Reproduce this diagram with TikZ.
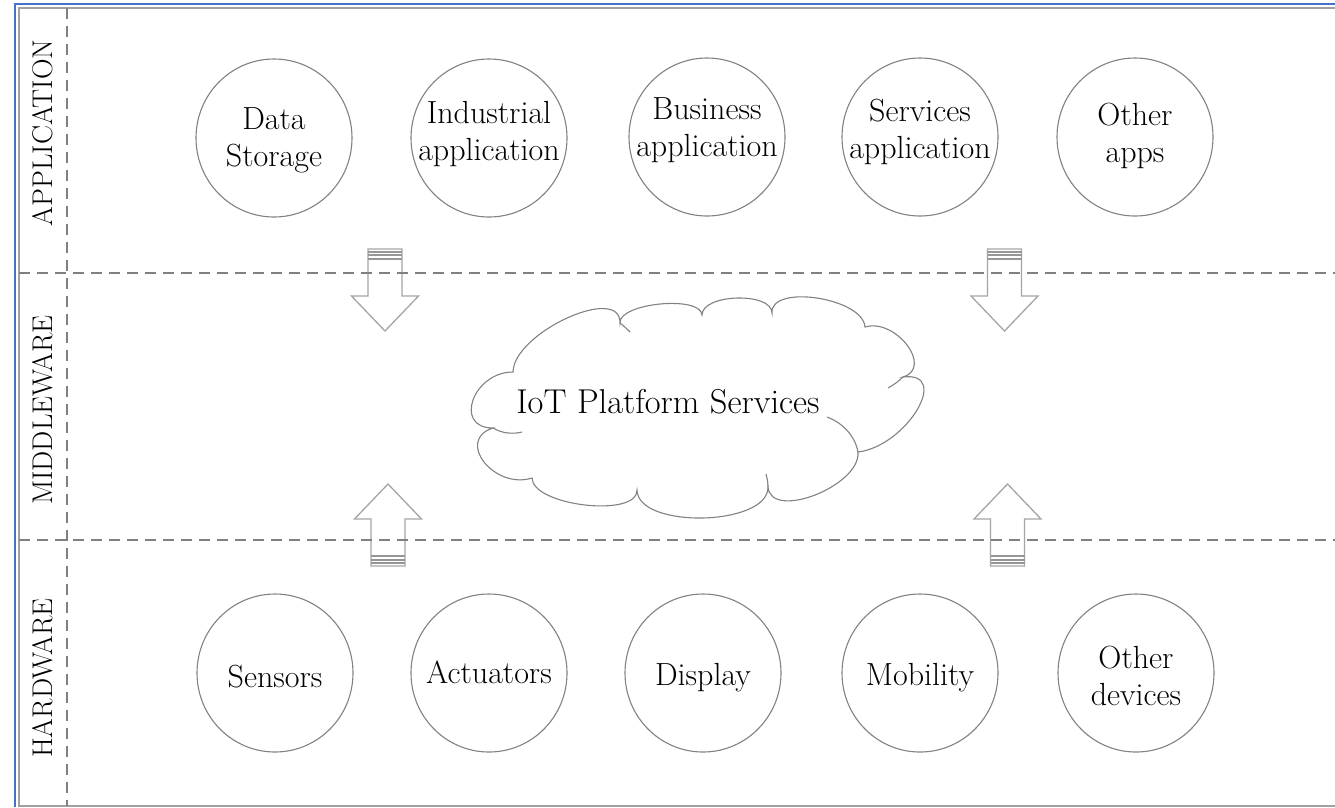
\documentclass[tikz,border=0pt]{standalone}
\usetikzlibrary{shapes.geometric}
\definecolor{frameblue}{RGB}{68,114,196}
\definecolor{framegray}{RGB}{160,160,160}
\definecolor{dashgray}{RGB}{128,128,128}
\definecolor{circgray}{RGB}{130,130,130}
\definecolor{arrgray}{RGB}{165,165,165}
\definecolor{stripegray}{RGB}{150,150,150}
\begin{document}
\begin{tikzpicture}[x=1pt,y=-1pt,
  bubble/.style={ellipse, draw=circgray, line width=1.1pt, minimum width=156pt, minimum height=158pt, inner sep=0pt},
  lbl/.style={align=center, font=\fontsize{32}{37}\selectfont, inner sep=0pt},
  layerlbl/.style={rotate=90, font=\fontsize{28.5}{30}\selectfont, inner sep=0pt},
  layerline/.style={dashgray, line width=2.4pt, dash pattern=on 11pt off 7pt},
  cloudline/.style={draw=circgray, line width=1.1pt},
  blkarrow/.pic={
    \draw[arrgray, line width=1.3pt, line join=miter]
      (-17,-82) -- (-17,-35) -- (-33.5,-35) -- (0,0) -- (33.5,-35) -- (17,-35) -- (17,-82) -- cycle;
    \draw[stripegray, line width=1.6pt] (-17,-79) -- (17,-79);
    \draw[stripegray, line width=1.4pt] (-17,-76) -- (17,-76);
    \draw[stripegray, line width=1.2pt] (-17,-72) -- (17,-72);
  }]
\useasboundingbox (0,0) rectangle (1335,807);
\fill[white] (0,0) rectangle (1335,807);

% frame
\draw[frameblue, line width=2pt] (15,807) -- (15,4) -- (1335,4);
\draw[framegray, line width=1.4pt] (1335,8) -- (19,8) -- (19,806) -- (1335,806);

% layer labels
\node[layerlbl] (lapp) at (43,133) {APPLICATION};
\node[layerlbl] (lmid) at (43,410) {MIDDLEWARE};
\node[layerlbl] (lhw)  at (43,678) {HARDWARE};

% application circles
\node[bubble] (c1) at (274,138) {};
\node[bubble] (c2) at (489,138) {};
\node[bubble] (c3) at (707,137) {};
\node[bubble] (c4) at (920,137) {};
\node[bubble] (c5) at (1135,137) {};
\node[lbl] (t1) at (274,140) {Data\\Storage};
\node[lbl] (t2) at (489,134) {Industrial\\application};
\node[lbl] (t3) at (707,130) {Business\\application};
\node[lbl] (t4) at (920,132) {Services\\application};
\node[lbl] (t5) at (1135,136) {Other\\apps};

% hardware circles
\node[bubble] (h1) at (275,673) {};
\node[bubble] (h2) at (489,673) {};
\node[bubble] (h3) at (703,673) {};
\node[bubble] (h4) at (920,673) {};
\node[bubble] (h5) at (1136,673) {};
\node[lbl] (s1) at (275,677) {Sensors};
\node[lbl] (s2) at (489,672) {Actuators};
\node[lbl] (s3) at (703,678) {Display};
\node[lbl] (s4) at (920,678) {Mobility};
\node[lbl] (s5) at (1136,676) {Other\\devices};

% cloud
\draw[cloudline, fill=white]
  (513,372) .. controls (513.7,332.7) and (620.7,283.7) .. (620,323)
  .. controls (618.7,303) and (700.7,295) .. (702,315)
  .. controls (702,293.7) and (772,291.7) .. (772,313)
  .. controls (770,283.7) and (863,297.7) .. (865,327)
  .. controls (895.7,317.7) and (933.7,367.7) .. (903,377)
  .. controls (951.7,371) and (906.7,446) .. (858,452)
  .. controls (860.7,486) and (770.7,521) .. (768,487)
  .. controls (768.7,526.3) and (637.7,529.3) .. (637,490)
  .. controls (637.7,518) and (532.7,506) .. (532,478)
  .. controls (494,490) and (455,440) .. (493,428)
  .. controls (453,428) and (473,372) .. (513,372) -- cycle;
\draw[cloudline] (493,428) .. controls (503,434) and (514,434) .. (522,432);
\draw[cloudline] (827,417) .. controls (843,423) and (855,436) .. (858,452);
\draw[cloudline] (620,323) .. controls (624,326) and (627,329) .. (630,332);
\draw[cloudline] (903,377) .. controls (898,382) and (893,385) .. (888,388);
\draw[cloudline] (768,487) .. controls (768,482) and (767,478) .. (766,474);
\node[font=\fontsize{34.5}{38}\selectfont, inner sep=0pt] (iot) at (668,402) {IoT Platform Services};

% block arrows
\pic at (385,331) {blkarrow};
\pic at (1004.5,331) {blkarrow};
\pic[rotate=180] at (388,484) {blkarrow};
\pic[rotate=180] at (1007.5,484) {blkarrow};

% dashed layer separators
\draw[layerline] (67,8) -- (67,806);
\draw[layerline] (19,273) -- (1335,273);
\draw[layerline] (19,540) -- (1335,540);
\end{tikzpicture}
\end{document}
